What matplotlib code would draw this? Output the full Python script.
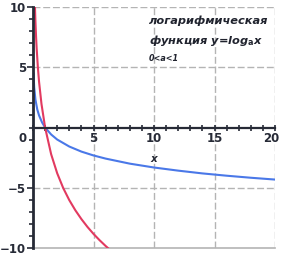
import matplotlib
matplotlib.use("Agg")
import matplotlib.pyplot as plt
import matplotlib.transforms as mtransforms
from matplotlib.ticker import MultipleLocator

# Data: y = log_a x for two bases 0<a<1
blue_x = [0.045, 0.1, 0.2, 0.35, 0.5, 0.75, 1, 1.5, 2, 3, 4, 5, 6, 8, 10, 12, 14, 16, 18, 20]
blue_y = [4.47, 3.32, 2.32, 1.51, 1.0, 0.42, 0.0, -0.58, -1.0, -1.58, -2.0, -2.32, -2.58, -3.0,
          -3.32, -3.58, -3.81, -4.0, -4.17, -4.32]
red_x = [0.16, 0.2, 0.25, 0.3, 0.4, 0.5, 0.7, 1, 1.5, 2, 2.5, 3, 3.5, 4, 4.5, 5, 5.5, 6, 6.5]
red_y = [10.05, 8.83, 7.6, 6.6, 5.03, 3.8, 1.96, 0.0, -2.22, -3.8, -5.03, -6.03, -6.87, -7.6,
         -8.25, -8.83, -9.35, -9.83, -10.27]
x_ticks = [5, 10, 15, 20]
x_tick_labels = ["5", "10", "15", "20"]
y_ticks = [-10, -5, 5, 10]
y_tick_labels = ["\u221210", "\u22125", "5", "10"]

W, H = 281, 257
fig = plt.figure(figsize=(W / 100, H / 100), dpi=100)
ax = fig.add_axes([33 / W, (H - 248) / H, 242 / W, 241 / H])
ax.set_xlim(0, 20)
ax.set_ylim(-10, 10)

grid_c = "#b4b4b4"
for xv in x_ticks:
    ax.axvline(xv, color=grid_c, lw=1.0, ls=(0, (5, 2)), zorder=1)
for yv in [5, -5, 10]:
    ax.axhline(yv, color=grid_c, lw=1.0, ls=(0, (5, 2)), zorder=1)
ax.axhline(-10, color=grid_c, lw=1.2, zorder=1, clip_on=False)

ax.plot(blue_x, blue_y, color="#4a78e8", lw=1.5, zorder=3)
ax.plot(red_x, red_y, color="#e23a60", lw=1.5, zorder=3)

axis_c = "#262a36"
for s in ["top", "right"]:
    ax.spines[s].set_visible(False)
ax.spines["left"].set_position(("data", 0))
ax.spines["bottom"].set_position(("data", 0))
ax.spines["left"].set_color(axis_c)
ax.spines["bottom"].set_color(axis_c)
ax.spines["left"].set_linewidth(2.0)
ax.spines["bottom"].set_linewidth(1.6)
ax.spines["left"].set_zorder(4)
ax.spines["bottom"].set_zorder(4)

ax.set_xticks(x_ticks)
ax.set_xticklabels(x_tick_labels)
ax.set_yticks(y_ticks)
ax.set_yticklabels(y_tick_labels)
ax.xaxis.set_minor_locator(MultipleLocator(1))
ax.yaxis.set_minor_locator(MultipleLocator(1))
ax.tick_params(axis="x", which="both", direction="inout", length=4, width=1.2, color=axis_c,
               labelsize=8.5, labelcolor=axis_c, pad=1)
ax.tick_params(axis="y", which="major", direction="out", length=4, width=1.2, color=axis_c,
               labelsize=8.5, labelcolor=axis_c, pad=1)
ax.tick_params(axis="y", which="minor", direction="out", length=3, width=1.2, color=axis_c)
for lab in ax.get_xticklabels() + ax.get_yticklabels():
    lab.set_fontweight("bold")

fig.canvas.draw()
last = ax.get_xticklabels()[-1]
last.set_transform(last.get_transform() +
                   mtransforms.ScaledTranslation(-4 / 100, 0, fig.dpi_scale_trans))

ax.text(-0.5, -0.35, "0", ha="right", va="top", fontsize=8.5, fontweight="bold", color=axis_c)
ax.text(10, -2.6, "x", ha="center", va="center", fontsize=7.5, fontweight="bold",
        style="italic", color=axis_c)

txt_c = "#20232e"
ax.text(9.6, 8.9, "логарифмическая", ha="left", va="center", fontsize=8.2,
        fontweight="bold", style="italic", color=txt_c, zorder=5)
ax.text(9.6, 7.2, "функция y=log$_\\mathbf{a}$x", ha="left", va="center", fontsize=8.2,
        fontweight="bold", style="italic", color=txt_c, zorder=5)
ax.text(9.6, 5.7, "0<a<1", ha="left", va="center", fontsize=5.8,
        fontweight="bold", style="italic", color=txt_c, zorder=5)

fig.savefig("out.png", dpi=100)
